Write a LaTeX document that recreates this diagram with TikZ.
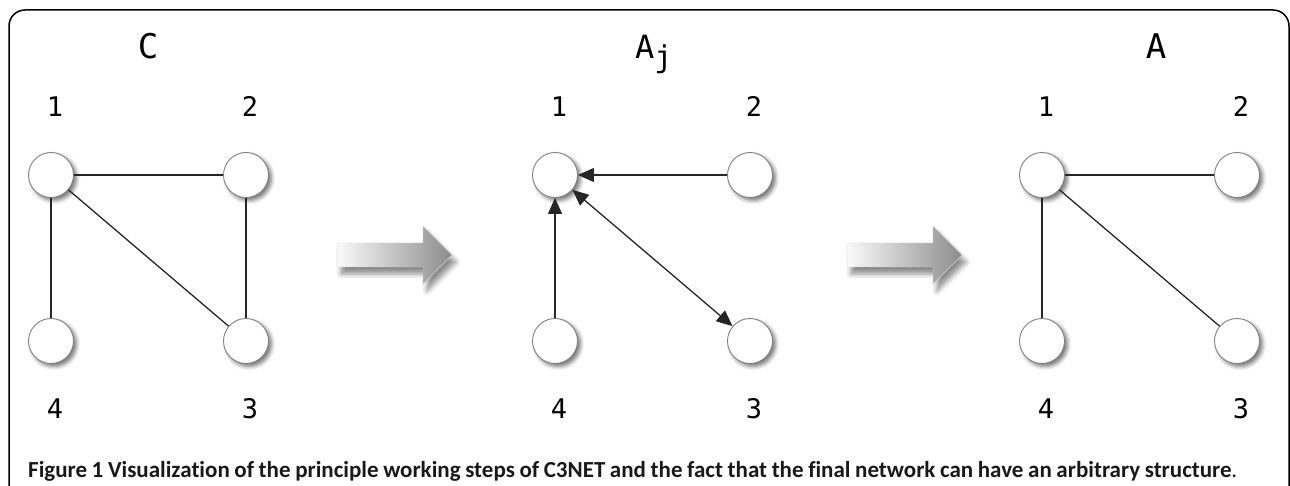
\documentclass[tikz,border=0pt]{standalone}
\usepackage{fontspec}
\setmainfont{Carlito}[Ligatures=NoCommon]
\newfontfamily\monof{DejaVu Sans Mono}
\usetikzlibrary{shadows.blur,arrows.meta}
\begin{document}
\begin{tikzpicture}[x=1pt,y=-1pt,
 vert/.style={circle, draw=black!50, line width=0.9pt, fill=white, minimum size=45pt, inner sep=0pt,
   blur shadow={shadow xshift=3pt, shadow yshift=-3pt, shadow blur radius=4pt, shadow opacity=55}},
 num/.style={font=\monof\fontsize{27}{30}\selectfont, inner sep=0pt, anchor=base},
 ttl/.style={font=\monof\fontsize{34}{40}\selectfont, inner sep=0pt, anchor=base},
 edge/.style={draw=black!85, line width=1.3pt},
 arr/.style={edge, -{Triangle[length=16pt,width=14pt]}},
 darr/.style={edge, {Triangle[length=16pt,width=14pt]}-{Triangle[length=16pt,width=14pt]}},
 blockarr/.style={left color=black!2, right color=black!45, draw=black!18, line width=0.4pt,
   blur shadow={shadow xshift=4pt, shadow yshift=-7pt, shadow blur radius=5pt, shadow opacity=45}}
]
\useasboundingbox (0,0) rectangle (1290,486);
% frame
\draw[line width=1.5pt, rounded corners=16pt] (9,520) -- (9,10) -- (1289,10) -- (1289,520);

% ---------- panel C ----------
\node[ttl] (tC) at (148,59) {C};
\node[vert] (a1) at (51,175) {};
\node[vert] (a2) at (246,175) {};
\node[vert] (a4) at (51,341) {};
\node[vert] (a3) at (246,341) {};
\node[num] (la1) at (55,117) {1};
\node[num] (la2) at (250,117) {2};
\node[num] (la4) at (55,418) {4};
\node[num] (la3) at (250,418) {3};
\draw[edge] (a1) -- (a2);
\draw[edge] (a1) -- (a4);
\draw[edge] (a1) -- (a3);
\draw[edge] (a2) -- (a3);

% ---------- block arrow 1 ----------
\path[blockarr] (337,243) -- (423,243) -- (423,226) -- (452,255) -- (423,284) -- (423,267) -- (337,267) -- cycle;

% ---------- panel Aj ----------
\node[font=\monof\fontsize{32}{36}\selectfont, inner sep=0pt, anchor=base west] (tAj) at (635,59) {A\raisebox{-9pt}{\fontsize{30}{34}\selectfont j}};
\node[vert] (b1) at (555,175) {};
\node[vert] (b2) at (750,175) {};
\node[vert] (b4) at (555,341) {};
\node[vert] (b3) at (750,341) {};
\node[num] (lb1) at (559,117) {1};
\node[num] (lb2) at (754,117) {2};
\node[num] (lb4) at (559,418) {4};
\node[num] (lb3) at (754,418) {3};
\draw[arr] (b2) -- (b1);
\draw[arr] (b4) -- (b1);
\draw[darr] (b1) -- (b3);

% ---------- block arrow 2 ----------
\path[blockarr] (847,243) -- (933,243) -- (933,226) -- (962,255) -- (933,284) -- (933,267) -- (847,267) -- cycle;

% ---------- panel A ----------
\node[ttl] (tA) at (1156,59) {A};
\node[vert] (c1) at (1042,175) {};
\node[vert] (c2) at (1237,175) {};
\node[vert] (c4) at (1042,341) {};
\node[vert] (c3) at (1237,341) {};
\node[num] (lc1) at (1046,117) {1};
\node[num] (lc2) at (1241,117) {2};
\node[num] (lc4) at (1046,418) {4};
\node[num] (lc3) at (1241,418) {3};
\draw[edge] (c1) -- (c2);
\draw[edge] (c1) -- (c4);
\draw[edge] (c1) -- (c3);

% ---------- caption ----------
\node[anchor=base west, inner sep=0pt, font=\fontsize{23}{26}\selectfont, text=black!90] (cap) at (28,477)
 {\makebox[1209pt][s]{\bfseries Figure 1 Visualization of the principle working steps of C3NET and the fact that the final network can have an arbitrary structure\mdseries.}};
\end{tikzpicture}
\end{document}
